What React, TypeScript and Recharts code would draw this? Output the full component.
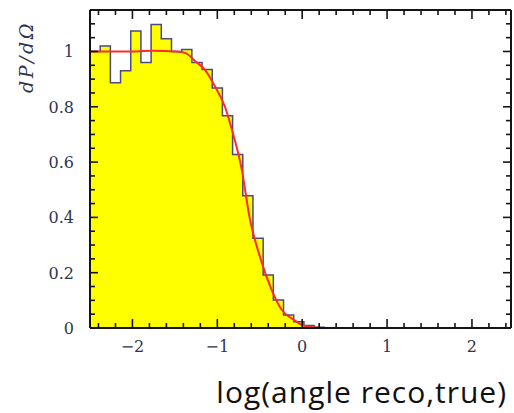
import React from 'react';
import { ComposedChart, Area, Line, XAxis, YAxis } from 'recharts';

// histogram bins (left edges) and heights
const binEdges = [
  -2.5, -2.38, -2.26, -2.14, -2.02, -1.9, -1.78, -1.66, -1.54, -1.42, -1.3, -1.18,
  -1.06, -0.94, -0.82, -0.7, -0.58, -0.46, -0.34, -0.22, -0.1, 0.02, 0.14, 0.26, 0.38,
];
const binHeights = [
  1.0, 1.02, 0.887, 0.93, 1.074, 0.96, 1.098, 1.046, 1.0, 1.007, 0.96, 0.935,
  0.868, 0.768, 0.627, 0.478, 0.325, 0.192, 0.101, 0.047, 0.023, 0.009, 0.003, 0,
];

// fitted curve
const curveX = [
  -2.5, -2.2, -2.0, -1.75, -1.5, -1.38, -1.26, -1.15, -1.03, -0.91, -0.84, -0.71,
  -0.62, -0.49, -0.36, -0.24, -0.11, 0, 0.15, 0.3, 1.0, 2.15,
];
const curveY = [
  1.0, 1.0, 1.0, 1.003, 1.0, 0.995, 0.965, 0.935, 0.875, 0.8, 0.73, 0.57,
  0.4, 0.25, 0.138, 0.065, 0.032, 0.011, 0.002, 0, 0, 0,
];

const xTicks = [
  -2.4, -2.2, -2, -1.8, -1.6, -1.4, -1.2, -1, -0.8, -0.6, -0.4, -0.2, 0,
  0.2, 0.4, 0.6, 0.8, 1, 1.2, 1.4, 1.6, 1.8, 2, 2.2, 2.4,
];
const yTicks = [
  0, 0.05, 0.1, 0.15, 0.2, 0.25, 0.3, 0.35, 0.4, 0.45, 0.5, 0.55, 0.6, 0.65,
  0.7, 0.75, 0.8, 0.85, 0.9, 0.95, 1, 1.05, 1.1,
];
const yLabels: Record<string, string> = { '0': '0', '0.2': '0.2', '0.4': '0.4', '0.6': '0.6', '0.8': '0.8', '1': '1' };

const histData = binHeights.map((h, i) => ({ x: binEdges[i], h }));
histData.push({ x: binEdges[binHeights.length], h: binHeights[binHeights.length - 1] });
const curveData = curveX.map((x, i) => ({ x, y: curveY[i] }));

const X_DOMAIN: [number, number] = [-2.5, 2.46];
const Y_DOMAIN: [number, number] = [0, 1.15];

const FRAME = '#151515';
const LABEL = '#30344e';
const tickFont = { fontFamily: '"DejaVu Serif", serif', fontSize: 16, fill: LABEL };

const isMajorX = (v: number) => Math.abs(v - Math.round(v)) < 1e-6;
const fmt = (v: number) => (v < 0 ? '\u2212' + Math.abs(v) : String(v));

const BottomTick = (props: any) => {
  const { x, y, payload } = props;
  const major = isMajorX(payload.value);
  return (
    <g>
      <path d={`M${x},${y}V${y - (major ? 9 : 5)}`} stroke={FRAME} strokeWidth={1.6} fill="none" />
      {major && (
        <text x={x} y={y + 24} textAnchor="middle" stroke="none" {...tickFont}>
          {fmt(payload.value)}
        </text>
      )}
    </g>
  );
};

const TopTick = (props: any) => {
  const { x, y, payload } = props;
  const major = isMajorX(payload.value);
  return <path d={`M${x},${y}V${y + (major ? 9 : 5)}`} stroke={FRAME} strokeWidth={1.6} fill="none" />;
};

const LeftTick = (props: any) => {
  const { x, y, payload } = props;
  const key = String(Math.round(payload.value * 100) / 100);
  const label = yLabels[key];
  return (
    <g>
      <path d={`M${x},${y}H${x + (label ? 8 : 5)}`} stroke={FRAME} strokeWidth={1.6} fill="none" />
      {label && (
        <text x={x - 16} y={y + 6} textAnchor="end" stroke="none" {...tickFont}>
          {label}
        </text>
      )}
    </g>
  );
};

const RightTick = (props: any) => {
  const { x, y, payload } = props;
  const key = String(Math.round(payload.value * 100) / 100);
  const label = yLabels[key];
  return <path d={`M${x},${y}H${x - (label ? 8 : 5)}`} stroke={FRAME} strokeWidth={1.6} fill="none" />;
};

const XTitle = (props: any) => {
  const vb = props.viewBox;
  return (
    <text
      x={vb.x + vb.width - 4}
      y={vb.y + 75}
      textAnchor="end"
      fontFamily='"Open Sans", sans-serif'
      fontSize={30}
      letterSpacing={1}
      fill="#111"
    >
      log(angle reco,true)
    </text>
  );
};

const YTitle = (props: any) => {
  const vb = props.viewBox;
  const cx = vb.x + 26;
  const cy = vb.y + 47;
  return (
    <text
      x={cx}
      y={cy}
      transform={`rotate(-90, ${cx}, ${cy})`}
      textAnchor="middle"
      dominantBaseline="central"
      fontFamily='"DejaVu Serif", serif'
      fontStyle="italic"
      fontSize={19}
      letterSpacing={2.5}
      fill={LABEL}
    >
      dP/dΩ
    </text>
  );
};

const W = 514;
const H = 413;
const layer: React.CSSProperties = { position: 'absolute', left: 0, top: 0 };

export default function App() {
  return (
    <div style={{ position: 'absolute', left: 0, top: 0, width: W, height: H, background: '#fff' }}>
      {/* data layer */}
      <div style={layer}>
        <ComposedChart width={W} height={H} margin={{ top: 10, right: 3, left: 90, bottom: 85 }}>
          <XAxis type="number" dataKey="x" domain={X_DOMAIN} allowDataOverflow hide />
          <YAxis type="number" domain={Y_DOMAIN} allowDataOverflow hide />
          <Area
            data={histData}
            dataKey="h"
            type="stepAfter"
            fill="#ffff00"
            fillOpacity={1}
            stroke="#4a4a85"
            strokeWidth={1.5}
            dot={false}
            activeDot={false}
            isAnimationActive={false}
          />
          <Line
            data={curveData}
            dataKey="y"
            type="monotone"
            stroke="#ff2a2a"
            strokeWidth={2}
            dot={false}
            activeDot={false}
            isAnimationActive={false}
          />
        </ComposedChart>
      </div>
      {/* frame layer on top, so the inward ticks stay visible over the fill */}
      <div style={layer}>
        <ComposedChart width={W} height={H} margin={{ top: 9, right: 2, left: 0, bottom: 0 }}>
          <Line data={curveData} dataKey="y" stroke="none" dot={false} activeDot={false} isAnimationActive={false} />
          <Line
            data={curveData}
            dataKey="y"
            xAxisId="top"
            yAxisId="right"
            stroke="none"
            dot={false}
            activeDot={false}
            isAnimationActive={false}
          />
          <XAxis
            type="number"
            dataKey="x"
            domain={X_DOMAIN}
            ticks={xTicks}
            interval={0}
            allowDataOverflow
            height={85}
            tickSize={0}
            tickMargin={0}
            tick={<BottomTick />}
            axisLine={{ stroke: FRAME, strokeWidth: 2 }}
            label={<XTitle />}
          />
          <XAxis
            xAxisId="top"
            orientation="top"
            type="number"
            dataKey="x"
            domain={X_DOMAIN}
            ticks={xTicks}
            interval={0}
            allowDataOverflow
            height={1}
            tickSize={0}
            tickMargin={0}
            tick={<TopTick />}
            axisLine={{ stroke: FRAME, strokeWidth: 2 }}
          />
          <YAxis
            type="number"
            domain={Y_DOMAIN}
            ticks={yTicks}
            interval={0}
            allowDataOverflow
            width={90}
            tickSize={0}
            tickMargin={0}
            tick={<LeftTick />}
            axisLine={{ stroke: FRAME, strokeWidth: 2 }}
            label={<YTitle />}
          />
          <YAxis
            yAxisId="right"
            orientation="right"
            type="number"
            domain={Y_DOMAIN}
            ticks={yTicks}
            interval={0}
            allowDataOverflow
            width={1}
            tickSize={0}
            tickMargin={0}
            tick={<RightTick />}
            axisLine={{ stroke: FRAME, strokeWidth: 2 }}
          />
        </ComposedChart>
      </div>
    </div>
  );
}
